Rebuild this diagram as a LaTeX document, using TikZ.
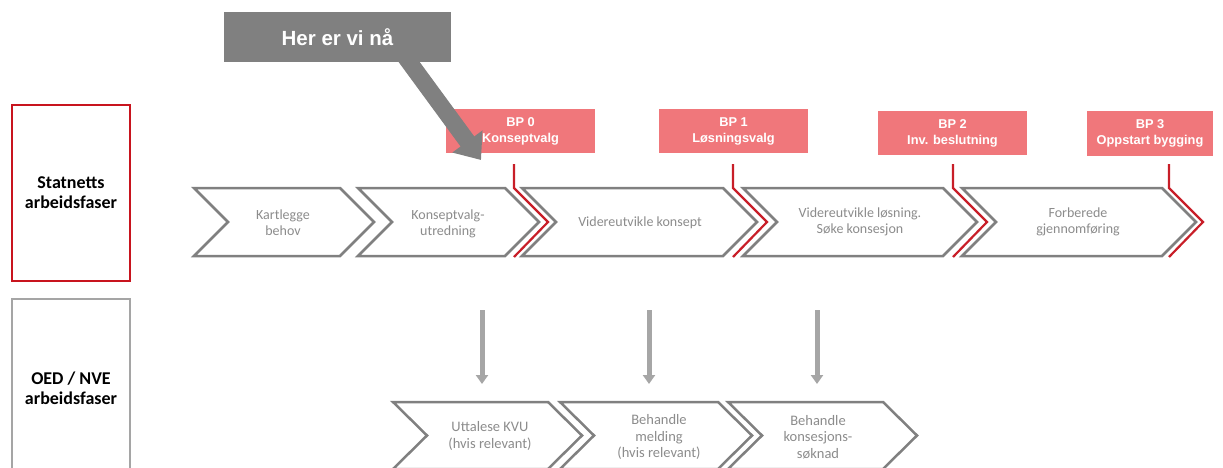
\documentclass[tikz,border=0pt]{standalone}
\usepackage{fontspec}
\setmainfont{Carlito}
\newfontfamily\arialfont{Liberation Sans}
\usetikzlibrary{arrows.meta}
\definecolor{bpfill}{RGB}{240,119,123}
\definecolor{herfill}{RGB}{128,128,128}
\definecolor{chevgray}{RGB}{128,128,128}
\definecolor{txtgray}{RGB}{140,140,140}
\definecolor{redln}{RGB}{200,30,40}
\definecolor{boxred}{RGB}{200,20,30}
\definecolor{boxgray}{RGB}{165,165,165}
\definecolor{arrgray}{RGB}{166,166,166}
\newcommand{\mychev}[5]{%
  \draw[chevline] (#1,#3) -- (#2,#3) -- ({#2+#5},{(#3+#4)/2}) -- (#2,#4) -- (#1,#4) -- ({#1+#5},{(#3+#4)/2}) -- cycle;}
\newcommand{\myredln}[1]{%
  \draw[redline] (#1,164) -- (#1,188) -- ({#1+34},222) -- (#1,257);}
\begin{document}
\begin{tikzpicture}[x=1pt,y=-1pt,
  chevline/.style={draw=chevgray, line width=2.5pt, line join=miter},
  redline/.style={draw=redln, line width=2.2pt, line join=miter},
  chevtext/.style={text=txtgray, font=\fontsize{14}{16}\selectfont, align=center, inner sep=0pt},
  chevtextb/.style={chevtext, font=\fontsize{14.5}{16.5}\selectfont},
  bpbox/.style={fill=bpfill, minimum width=149pt, minimum height=44pt, inner sep=0pt, text=white,
    font=\arialfont\bfseries\fontsize{12.8}{16}\selectfont, align=center},
  sidebox/.style={draw, line width=2.2pt, minimum width=118pt, inner sep=0pt, align=center,
    font=\bfseries\fontsize{18}{20}\selectfont},
  herbox/.style={fill=herfill, minimum width=227pt, minimum height=50pt, inner sep=0pt, text=white,
    font=\arialfont\bfseries\fontsize{20.5}{23}\selectfont},
  hereto/.style={draw=herfill, line width=17pt, -{Triangle[length=23pt,width=36pt]}},
  downarr/.style={draw=arrgray, line width=5pt, -{Triangle[length=9pt,width=12pt]}}
]
\useasboundingbox (0,0) rectangle (1223,468);
\clip (0,0) rectangle (1223,468);
\fill[white] (0,0) rectangle (1223,468);

% side labels
\node[sidebox, draw=boxred, minimum height=176pt] (statnett) at (71,193) {Statnetts\\arbeidsfaser};
\node[sidebox, draw=boxgray, minimum height=178pt] (oed) at (71,388) {OED / NVE\\arbeidsfaser};

% top row chevrons
\mychev{194}{340}{188}{256}{34}
\mychev{358}{505}{188}{256}{34}
\mychev{522}{723}{188}{256}{34}
\mychev{743}{943}{188}{256}{34}
\mychev{962}{1162}{188}{256}{34}

\node[chevtext] (t1) at (283,223) {Kartlegge\\behov};
\node[chevtext] (t2) at (448,224) {Konseptvalg-\\utredning};
\node[chevtext] (t3) at (640,223) {Videreutvikle konsept};
\node[chevtext] (t4) at (860,222) {Videreutvikle løsning.\\Søke konsesjon};
\node[chevtext] (t5) at (1078,222) {Forberede\\gjennomføring};

% decision points
\node[bpbox] (bp0) at (520.5,131) {BP 0\\Konseptvalg};
\node[bpbox] (bp1) at (733.5,131) {BP 1\\Løsningsvalg};
\node[bpbox] (bp2) at (952.5,133) {BP 2\\Inv. beslutning};
\node[bpbox, minimum width=126pt] (bp3) at (1150,133.5) {BP 3\\Oppstart bygging};

\myredln{514}
\myredln{733}
\myredln{953}
\myredln{1169}

% here we are
\coordinate (hstart) at (404,55);
\coordinate (htip) at (481,160);
\draw[hereto] (hstart) -- (htip);
\node[herbox] (her) at (337.5,37) {Her er vi nå};

% down arrows
\coordinate (d1s) at (482,310); \coordinate (d1e) at (482,384);
\coordinate (d2s) at (649,310); \coordinate (d2e) at (649,384);
\coordinate (d3s) at (817,310); \coordinate (d3e) at (817,384);
\draw[downarr] (d1s) -- (d1e);
\draw[downarr] (d2s) -- (d2e);
\draw[downarr] (d3s) -- (d3e);

% bottom row chevrons
\mychev{393}{548}{402}{469}{34}
\mychev{560}{718}{402}{469}{34}
\mychev{728}{883}{402}{469}{34}

\node[chevtextb] (b1) at (490,436) {Uttalese KVU\\(hvis relevant)};
\node[chevtextb] (b2) at (659,437) {Behandle\\melding\\(hvis relevant)};
\node[chevtextb] (b3) at (818,437) {Behandle\\konsesjons-\\søknad};
\end{tikzpicture}
\end{document}
